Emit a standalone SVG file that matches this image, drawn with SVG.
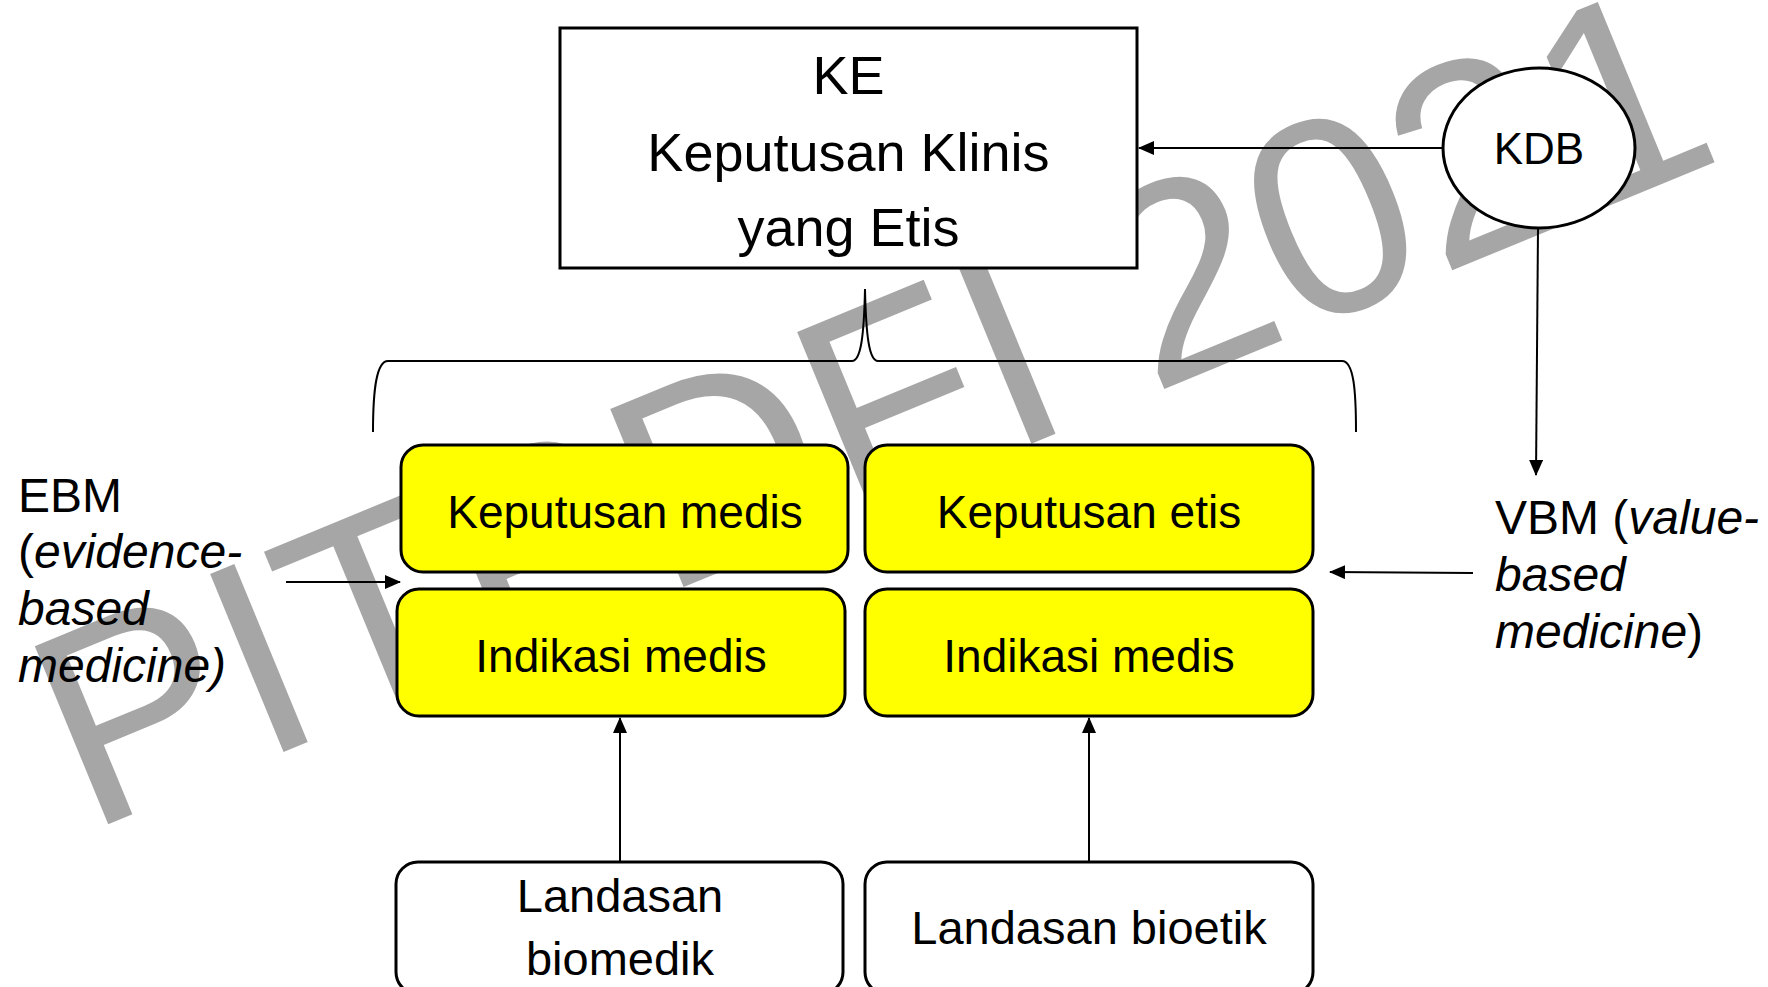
<svg xmlns="http://www.w3.org/2000/svg" width="1768" height="987" viewBox="0 0 1768 987">
  <style>
    .box { stroke: #000; stroke-width: 3; }
    .yellow { fill: #FFFF00; stroke: #000; stroke-width: 3; }
    .white { fill: #FFFFFF; stroke: #000; stroke-width: 3; }
    .t { font-family: "Liberation Sans", Arial, sans-serif; fill: #000; text-anchor: middle; }
    .side { font-family: "Liberation Sans", Arial, sans-serif; fill: #000; font-size: 48px; }
    .it { font-style: italic; }
    .conn { stroke: #000; stroke-width: 2; fill: none; }
    .wm { font-family: "Liberation Sans", Arial, sans-serif; fill: #A6A6A6; font-size: 280px; }
  </style>
  <defs>
    <marker id="arrow" markerUnits="userSpaceOnUse" markerWidth="16" markerHeight="14" viewBox="0 0 16 14" refX="15" refY="7" orient="auto">
      <path d="M0,0 L16,7 L0,14 z" fill="#000"/>
    </marker>
  </defs>
  <rect width="1768" height="987" fill="#FFFFFF"/>
  <g id="watermark">
    <text class="wm" transform="translate(87,833) rotate(-22.4)">PITPDFI 2021</text>
  </g>
  <g id="node-ke">
    <rect class="white" x="560" y="28" width="577" height="240"/>
    <text class="t" font-size="54" x="848.5" y="94">KE</text>
    <text class="t" font-size="54" x="848.5" y="171">Keputusan Klinis</text>
    <text class="t" font-size="54" x="848.5" y="246">yang Etis</text>
  </g>
  <g id="node-kdb">
    <ellipse class="white" cx="1539" cy="148" rx="96" ry="80"/>
    <text class="t" font-size="44" x="1539" y="164">KDB</text>
  </g>
  <g id="connectors">
    <path class="conn" d="M373,432 C373,392 376,361 388,361 L852,361 C861,361 864,335 865,289 C866,335 869,361 878,361 L1342,361 C1354,361 1356,392 1356,432"/>
    <line class="conn" x1="1443" y1="148" x2="1139" y2="148" marker-end="url(#arrow)"/>
    <line class="conn" x1="1538" y1="229" x2="1536" y2="475" marker-end="url(#arrow)"/>
    <line class="conn" x1="286" y1="582" x2="400" y2="582" marker-end="url(#arrow)"/>
    <line class="conn" x1="1473" y1="573" x2="1330" y2="572" marker-end="url(#arrow)"/>
    <line class="conn" x1="620" y1="862" x2="620" y2="718" marker-end="url(#arrow)"/>
    <line class="conn" x1="1089" y1="862" x2="1089" y2="718" marker-end="url(#arrow)"/>
  </g>
  <g id="node-keputusan-medis">
    <rect class="yellow" x="401" y="445" width="447" height="127" rx="22"/>
    <text class="t" font-size="46" x="625" y="528">Keputusan medis</text>
  </g>
  <g id="node-keputusan-etis">
    <rect class="yellow" x="865" y="445" width="448" height="127" rx="22"/>
    <text class="t" font-size="46" x="1089" y="528">Keputusan etis</text>
  </g>
  <g id="node-indikasi-medis-1">
    <rect class="yellow" x="397" y="589" width="448" height="127" rx="22"/>
    <text class="t" font-size="46" x="621" y="672">Indikasi medis</text>
  </g>
  <g id="node-indikasi-medis-2">
    <rect class="yellow" x="865" y="589" width="448" height="127" rx="22"/>
    <text class="t" font-size="46" x="1089" y="672">Indikasi medis</text>
  </g>
  <g id="node-landasan-biomedik">
    <rect class="white" x="396" y="862" width="447" height="132" rx="22"/>
    <text class="t" font-size="47" x="620" y="912">Landasan</text>
    <text class="t" font-size="47" x="620" y="975">biomedik</text>
  </g>
  <g id="node-landasan-bioetik">
    <rect class="white" x="865" y="862" width="448" height="132" rx="22"/>
    <text class="t" font-size="47" x="1089" y="944">Landasan bioetik</text>
  </g>
  <g id="node-ebm">
    <text class="side" x="18" y="512">EBM</text>
    <text class="side" x="18" y="568">(<tspan class="it">evidence-</tspan></text>
    <text class="side it" x="18" y="625">based</text>
    <text class="side it" x="18" y="682">medicine)</text>
  </g>
  <g id="node-vbm">
    <text class="side" x="1495" y="534">VBM (<tspan class="it">value-</tspan></text>
    <text class="side it" x="1495" y="591">based</text>
    <text class="side" x="1495" y="648"><tspan class="it">medicine</tspan>)</text>
  </g>
</svg>
